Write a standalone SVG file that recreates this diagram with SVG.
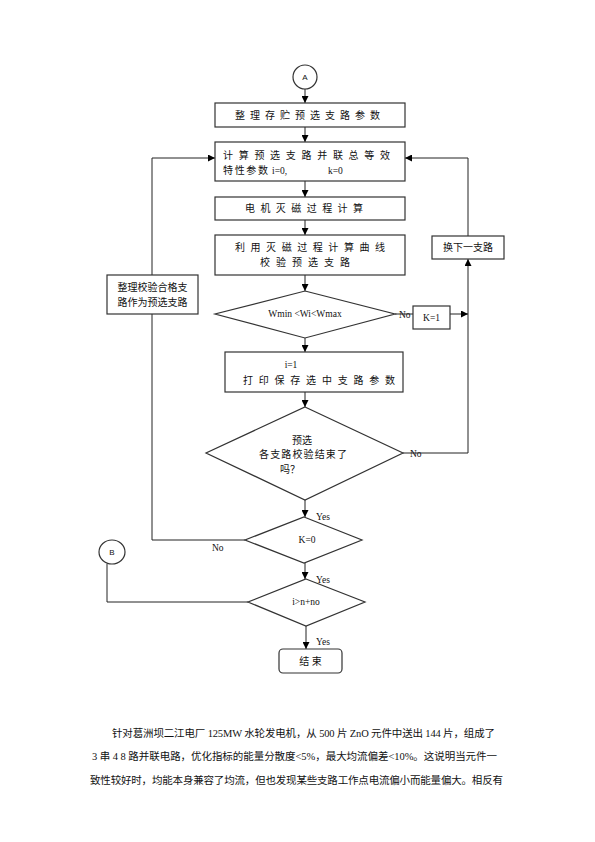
<svg xmlns="http://www.w3.org/2000/svg" width="595" height="842" viewBox="0 0 595 842">
<defs>
<marker id="ah" viewBox="0 0 10 10" refX="10" refY="5" markerWidth="7" markerHeight="7" markerUnits="userSpaceOnUse" orient="auto">
<path d="M0,0 L10,5 L0,10 z" fill="#000"/>
</marker>
<style>
.box{fill:#fff;stroke:#333;stroke-width:1.2}
.ln{fill:none;stroke:#222;stroke-width:1}
.arr{fill:none;stroke:#222;stroke-width:1;marker-end:url(#ah)}
.cn{font-family:"Liberation Serif","Noto Sans CJK SC",serif;font-size:10px;fill:#111}
.lat{font-family:"Liberation Serif",serif;font-size:9.5px;fill:#111}
.sm{font-family:"Liberation Sans",sans-serif;font-size:8px;fill:#111}
.para{font-family:"Liberation Serif","Noto Sans CJK SC",serif;font-size:10.5px;fill:#111}
</style>
</defs>
<rect width="595" height="842" fill="#fff"/>

<g id="connectors">
<line class="arr" x1="305" y1="89" x2="305" y2="103"/>
<line class="arr" x1="305" y1="127" x2="305" y2="142"/>
<line class="arr" x1="305" y1="181" x2="305" y2="197"/>
<line class="arr" x1="305" y1="220" x2="305" y2="235"/>
<line class="arr" x1="305" y1="275" x2="305" y2="291"/>
<line class="arr" x1="305" y1="338" x2="305" y2="352"/>
<line class="arr" x1="305" y1="392" x2="305" y2="407"/>
<line class="arr" x1="305" y1="500" x2="305" y2="517"/>
<line class="arr" x1="305" y1="563" x2="305" y2="579"/>
<line class="arr" x1="306" y1="626" x2="306" y2="649"/>
<polyline class="ln" points="403,453 468,453 468,314"/>
<line class="arr" x1="468" y1="314" x2="468" y2="259"/>
<polyline class="arr" points="468,236 468,158 405,158"/>
<line class="ln" x1="395" y1="314" x2="413" y2="314"/>
<line class="arr" x1="450" y1="314" x2="468" y2="314"/>
<polyline class="ln" points="245,540 152,540 152,314"/>
<polyline class="arr" points="152,275 152,158 215,158"/>
<polyline class="ln" points="107,564 107,602 248,602"/>
</g>

<g id="label-texts">
<text class="lat" x="399" y="318">No</text>
<text class="lat" x="410" y="457">No</text>
<text class="lat" x="212" y="551">No</text>
<text class="lat" x="316" y="520">Yes</text>
<text class="lat" x="316" y="583">Yes</text>
<text class="lat" x="316" y="645">Yes</text>
</g>

<g id="nodeA">
<ellipse cx="305" cy="77" rx="12" ry="12" class="box"/>
<text class="sm" x="305" y="80" text-anchor="middle">A</text>
</g>

<g id="node1">
<rect class="box" x="215" y="103" width="190" height="24"/>
<text class="cn" x="235" y="119" textLength="145" lengthAdjust="spacing">整理存贮预选支路参数</text>
</g>

<g id="node2">
<rect class="box" x="215" y="142" width="190" height="39"/>
<text class="cn" x="223" y="159" textLength="167" lengthAdjust="spacing">计算预选支路并联总等效</text>
<text class="cn" x="223" y="174" textLength="45" lengthAdjust="spacing">特性参数</text>
<text class="lat" x="272" y="174">i=0,</text>
<text class="lat" x="328" y="174">k=0</text>
</g>

<g id="node3">
<rect class="box" x="215" y="197" width="190" height="23"/>
<text class="cn" x="245" y="212" textLength="118" lengthAdjust="spacing">电机灭磁过程计算</text>
</g>

<g id="node4">
<rect class="box" x="215" y="235" width="190" height="40"/>
<text class="cn" x="235" y="251" textLength="150" lengthAdjust="spacing">利用灭磁过程计算曲线</text>
<text class="cn" x="260" y="266" textLength="90" lengthAdjust="spacing">校验预选支路</text>
</g>

<g id="decision1">
<polygon class="box" points="305,291 395,314 305,338 215,314"/>
<text class="lat" x="305" y="317" text-anchor="middle">Wmin &lt;Wi&lt;Wmax</text>
</g>

<g id="nodeK1">
<rect class="box" x="413" y="306" width="37" height="23"/>
<text class="lat" x="431.5" y="321" text-anchor="middle">K=1</text>
</g>

<g id="nodeNext">
<rect class="box" x="432" y="236" width="72" height="23"/>
<text class="cn" x="468" y="251" text-anchor="middle">换下一支路</text>
</g>

<g id="nodeCollect">
<rect class="box" x="107" y="275" width="91" height="39"/>
<text class="cn" x="152.5" y="291" text-anchor="middle">整理校验合格支</text>
<text class="cn" x="152.5" y="306" text-anchor="middle">路作为预选支路</text>
</g>

<g id="node5">
<rect class="box" x="225" y="352" width="178" height="40"/>
<text class="lat" x="291" y="368" text-anchor="middle">i=1</text>
<text class="cn" x="243" y="384" textLength="152" lengthAdjust="spacing">打印保存选中支路参数</text>
</g>

<g id="decision2">
<polygon class="box" points="305,407 403,453 305,500 206,453"/>
<text class="cn" x="302" y="444" text-anchor="middle">预选</text>
<text class="cn" x="259" y="458" textLength="88" lengthAdjust="spacing">各支路校验结束了</text>
<text class="cn" x="290" y="473" text-anchor="middle">吗？</text>
</g>

<g id="decision3">
<polygon class="box" points="304,517 362,540 304,563 245,540"/>
<text class="lat" x="307" y="543" text-anchor="middle">K=0</text>
</g>

<g id="nodeB">
<ellipse cx="112" cy="552" rx="13" ry="12" class="box"/>
<text class="sm" x="112" y="555" text-anchor="middle">B</text>
</g>

<g id="decision4">
<polygon class="box" points="306,579 365,602 306,626 248,602"/>
<text class="lat" x="306" y="605" text-anchor="middle">i&gt;n+no</text>
</g>

<g id="nodeEnd">
<rect class="box" x="279" y="649" width="63" height="24" rx="4"/>
<text class="cn" x="310.5" y="665" text-anchor="middle">结 束</text>
</g>

<g id="paragraph">
<text class="para" x="112" y="737" textLength="383" lengthAdjust="spacing">针对葛洲坝二江电厂 125MW 水轮发电机，从 500 片 ZnO 元件中送出 144 片，组成了</text>
<text class="para" x="92" y="760" textLength="405" lengthAdjust="spacing">3 串 4 8 路并联电路，优化指标的能量分散度&lt;5%，最大均流偏差&lt;10%。这说明当元件一</text>
<text class="para" x="90" y="784" textLength="413" lengthAdjust="spacing">致性较好时，均能本身兼容了均流，但也发现某些支路工作点电流偏小而能量偏大。相反有</text>
</g>
</svg>
